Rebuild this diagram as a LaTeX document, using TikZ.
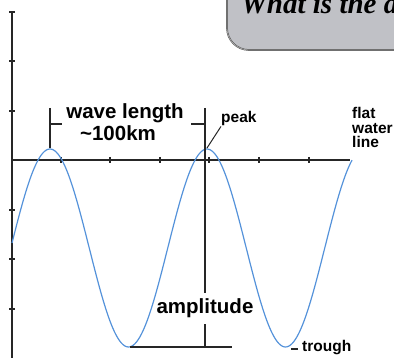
\documentclass[tikz,border=0pt]{standalone}
\usepackage{fontspec}
\setmainfont{Liberation Sans}
\newfontfamily\quizfont{Liberation Serif}
\usetikzlibrary{positioning}
\definecolor{waveblue}{RGB}{84,146,218}
\definecolor{boxgray}{RGB}{192,193,198}
\tikzset{
  axisline/.style={line width=1.1pt,black!85},
  biglabel/.style={inner sep=0pt,font=\bfseries\fontsize{20.5}{21}\selectfont},
  smalllabel/.style={inner sep=0pt,font=\bfseries\fontsize{15.5}{14.5}\selectfont},
}

\begin{document}
\begin{tikzpicture}[x=1pt,y=-1pt]
\useasboundingbox (0,0) rectangle (394,358);
\clip (0,0) rectangle (394,358);
% question box, cut by the page edge
\draw[rounded corners=22pt,fill=boxgray,draw=black!70,double=black!30,double distance=0.6pt,line width=0.5pt] (227,-40) rectangle (440,50);
\node[anchor=base west,inner sep=0pt,font=\quizfont\bfseries\itshape\fontsize{29}{29}\selectfont] (quiz) at (241,14) {What is the d};
% axes
\coordinate (ytop) at (12,12);
\coordinate (ybot) at (12,358);
\coordinate (orig) at (12,160);
\coordinate (xend) at (350,160);
\draw[axisline] (ytop) -- (ybot);
\foreach \y in {12,61,111,210,259,309} \draw[axisline] (9,\y) -- (15,\y);
\draw[axisline] (orig) -- (xend);
\foreach \x in {61,110,160,209,259,309} \draw[axisline] (\x,157) -- (\x,163);
% the wave
\draw[waveblue,line width=1.2pt] plot[domain=12:352,samples=200,smooth] (\x,{248-99*cos(2.293*(\x-50))});
% wave length bracket
\coordinate (peakA) at (50,148);
\coordinate (peakB) at (207,148);
\coordinate (wlA) at (50,108);
\coordinate (wlAa) at (50,124);
\coordinate (wlAb) at (62,124);
\coordinate (wlB) at (205,108);
\coordinate (wlBa) at (205,124);
\coordinate (wlBb) at (191,124);
\draw[axisline] (wlA) -- (peakA);
\draw[axisline] (wlAa) -- (wlAb);
\draw[axisline] (wlBa) -- (wlBb);
\node[biglabel,anchor=base] (wl) at (125,119) {wave length};
\node[biglabel,anchor=base] (wkm) at (118,141) {\textasciitilde100km};
% peak
\node[smalllabel,anchor=base west] (peak) at (221,123) {peak};
\draw[axisline,line width=1pt] (peak.south west) -- (peakB);
% amplitude
\node[biglabel,anchor=base,inner ysep=6pt] (amp) at (205,314) {amplitude};
\coordinate (ampbot) at (205,347);
\coordinate (troughA) at (130,347);
\coordinate (ampend) at (232,347);
\draw[axisline] (wlB) -- (amp.north);
\draw[axisline] (amp.south) -- (ampbot);
\draw[axisline] (troughA) -- (ampend);
% trough
\node[smalllabel,anchor=base west] (trough) at (302,352) {trough};
\coordinate (troughB) at (291,349);
\draw[axisline,shorten >=4pt] (troughB) -- (troughB -| trough.west);
% flat water line
\node[smalllabel,anchor=base west,align=left] (flat) at (352,148) {flat\\water\\line};
\end{tikzpicture}
\end{document}
